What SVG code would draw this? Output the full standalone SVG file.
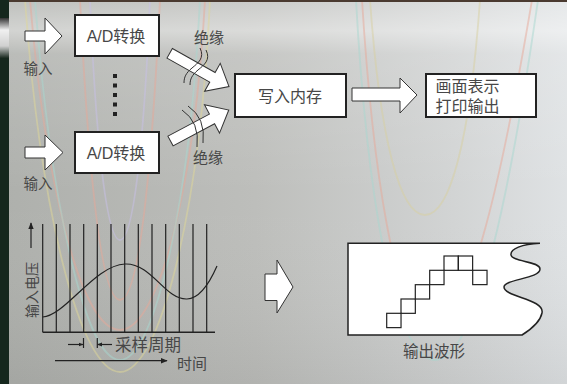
<svg xmlns="http://www.w3.org/2000/svg" width="567" height="384" viewBox="0 0 567 384">
<defs>
<linearGradient id="bgH" x1="0" y1="0" x2="1" y2="0">
<stop offset="0" stop-color="#aeb0ac"/>
<stop offset="0.45" stop-color="#bdbebb"/>
<stop offset="0.8" stop-color="#d2d4d4"/>
<stop offset="1" stop-color="#dfe2e4"/>
</linearGradient>
<linearGradient id="bgV" x1="0" y1="0" x2="0" y2="1">
<stop offset="0" stop-color="#ffffff" stop-opacity="0.2"/>
<stop offset="0.08" stop-color="#ffffff" stop-opacity="0.45"/>
<stop offset="0.14" stop-color="#ffffff" stop-opacity="0.15"/>
<stop offset="0.5" stop-color="#ffffff" stop-opacity="0"/>
<stop offset="1" stop-color="#000000" stop-opacity="0.06"/>
</linearGradient>
<linearGradient id="strip" x1="0" y1="0" x2="0" y2="1">
<stop offset="0" stop-color="#333"/>
<stop offset="0.3" stop-color="#f0f0f0"/>
<stop offset="0.7" stop-color="#d0d0d0"/>
<stop offset="1" stop-color="#1a2a20"/>
</linearGradient>
<marker id="ah" viewBox="0 0 10 10" refX="9" refY="5" markerWidth="7" markerHeight="7" markerUnits="userSpaceOnUse" orient="auto">
<path d="M0,1 L10,5 L0,9 Z" fill="#222"/>
</marker>
<marker id="ahs" viewBox="0 0 10 10" refX="9" refY="5" markerWidth="5" markerHeight="5" markerUnits="userSpaceOnUse" orient="auto">
<path d="M0,1 L10,5 L0,9 Z" fill="#222"/>
</marker>
</defs>
<style>
.box{fill:#fff;stroke:#222;stroke-width:2}
.blk{fill:#fff;stroke:#333;stroke-width:1}
.t{font-family:"Liberation Sans","Noto Sans CJK SC",sans-serif;fill:#474747}
.ln{stroke:#222;stroke-width:1.2;fill:none}
.ins{stroke:#333;stroke-width:1;fill:none}
.rb{fill:none;stroke-width:1.8;opacity:0.5}
</style>
<!-- background -->
<rect x="0" y="0" width="567" height="384" fill="url(#bgH)"/>
<rect x="0" y="0" width="567" height="384" fill="url(#bgV)"/>
<g id="rainbow">
<path class="rb" stroke="#e8a898" d="M30,0 C45,180 80,330 120,330 C160,330 195,180 205,0"/>
<path class="rb" stroke="#a8d8d0" d="M35,0 C50,200 85,360 120,360 C155,360 190,200 200,0"/>
<path class="rb" stroke="#e0d898" d="M25,0 C40,210 80,372 120,372 C160,372 200,210 210,0"/>
<path class="rb" stroke="#c8c0e8" d="M90,0 C95,120 105,240 120,240 C135,240 145,120 150,0"/>
<path class="rb" stroke="#e8a898" d="M80,0 C88,160 100,300 120,300 C140,300 152,160 160,0"/>
<path class="rb" stroke="#e8a898" d="M362,0 C372,160 395,330 432,330 C470,330 505,160 532,0"/>
<path class="rb" stroke="#a8d8d0" d="M356,0 C366,180 392,360 435,360 C478,360 512,180 538,0"/>
<path class="rb" stroke="#d8d0a0" d="M370,0 C380,140 400,215 425,215 C450,215 470,140 480,0"/>
</g>
<rect x="0" y="0" width="9" height="384" fill="#15271d"/>
<rect x="0" y="18" width="9" height="40" fill="url(#strip)"/>
<rect x="9" y="0" width="558" height="2" fill="#4a3a30"/>

<g id="connectors">
<polygon class="blk" points="25,31 45,31 45,18 62,36 45,54 45,41 25,41"/>
<polygon class="blk" points="25,147 45,147 45,135 63,152.5 45,170 45,158 25,158"/>
<polygon class="blk" transform="translate(169.7,53.3) rotate(29.3)" points="0,-5.5 49,-5.5 49,-16 68,0 49,16 49,5.5 0,5.5"/>
<polygon class="blk" transform="translate(170.5,141) rotate(-28)" points="0,-5.5 47,-5.5 47,-16 66,0 47,16 47,5.5 0,5.5"/>
<path class="ins" d="M200,48 C205,58 198,63 192,68 C186,73 184,77 184,83"/>
<path class="ins" d="M206,50 C211,60 204,65 198,70 C192,75 190,79 190,85"/>
<path class="ins" d="M182,110 Q200,122 197,147"/>
<path class="ins" d="M188,106 Q206,118 203,143"/>
<polygon class="blk" points="352,88 400,88 400,78 417,95 400,113 400,101 352,101"/>
<polygon class="blk" points="265,274 277,274 277,260 293,287 277,313 277,300.5 265,300.5"/>
</g>

<g id="dots" fill="#222">
<rect x="113" y="74" width="4" height="4"/>
<rect x="113" y="83.5" width="4" height="4"/>
<rect x="113" y="93" width="4" height="4"/>
<rect x="113" y="102.5" width="4" height="4"/>
<rect x="113" y="112" width="4" height="4"/>
</g>

<g id="ad1">
<rect class="box" x="75" y="15" width="84" height="41"/>
<text class="t" x="116" y="42" font-size="16" text-anchor="middle">A/D转换</text>
</g>
<g id="ad2">
<rect class="box" x="75" y="132" width="84" height="41"/>
<text class="t" x="116" y="159" font-size="16" text-anchor="middle">A/D转换</text>
</g>
<g id="in1"><text class="t" x="38" y="74" font-size="14.5" text-anchor="middle">输入</text></g>
<g id="in2"><text class="t" x="38" y="189" font-size="14.5" text-anchor="middle">输入</text></g>
<g id="iso1"><text class="t" x="209" y="43" font-size="15" text-anchor="middle">绝缘</text></g>
<g id="iso2"><text class="t" x="208" y="163" font-size="15" text-anchor="middle">绝缘</text></g>
<g id="mem">
<rect class="box" x="235" y="74" width="111" height="43"/>
<text class="t" x="290" y="102" font-size="16" text-anchor="middle">写入内存</text>
</g>
<g id="out">
<rect class="box" x="426" y="74" width="110" height="43"/>
<text class="t" x="435.5" y="92" font-size="16">画面表示</text>
<text class="t" x="435.5" y="112" font-size="16">打印输出</text>
</g>

<g id="graph">
<g class="ln">
<path d="M42.7,224 V332.3 M56.3,224 V332.3 M70,224 V332.3 M83.7,224 V332.3 M97.3,224 V332.3 M111,224 V332.3 M124.7,224 V332.3 M138.3,224 V332.3 M152,224 V332.3 M165.7,224 V332.3 M179.3,224 V332.3 M193,224 V332.3 M206.7,224 V332.3"/>
<path d="M42.7,332.3 H215" stroke-width="1.5"/>
<path d="M42.7,317 C65,316 95,265 125,264 C152,263 165,300 187,299 C200,298.5 210,282 217,266"/>
<path d="M31,248 V223" marker-end="url(#ah)"/>
<path d="M55,360.7 H167" marker-end="url(#ah)"/>
<path d="M68,344.5 H83" marker-end="url(#ahs)"/>
<path d="M112,344.5 H97.5" marker-end="url(#ahs)"/>
<path d="M83.5,338 V348 M97.3,338 V348"/>
</g>
<text class="t" font-size="14" text-anchor="middle" transform="translate(36.5,290) rotate(-90)">输入电压</text>
<text class="t" x="115" y="351" font-size="16.5">采样周期</text>
<text class="t" x="177" y="369" font-size="15">时间</text>
</g>

<g id="wave">
<path d="M348,243.3 H540 C522,244 510,249 511,255 C512,262 540,261 540,269 C540,279 504,279 504,287 C504,297 545,299 542,313 C540,323 530,330 522,335 H348 Z" fill="#fff" stroke="#222" stroke-width="1.5"/>
<g fill="none" stroke="#222" stroke-width="1.2">
<rect x="386.7" y="313.3" width="14.33" height="14.33"/>
<rect x="401" y="299" width="14.33" height="14.33"/>
<rect x="415.3" y="284.7" width="14.33" height="14.33"/>
<rect x="429.7" y="270.3" width="14.33" height="14.33"/>
<rect x="444" y="256" width="14.33" height="14.33"/>
<rect x="458.3" y="256" width="14.33" height="14.33"/>
<rect x="472.7" y="270.3" width="14.33" height="14.33"/>
</g>
<text class="t" x="434" y="357" font-size="15.5" text-anchor="middle">输出波形</text>
</g>
</svg>
